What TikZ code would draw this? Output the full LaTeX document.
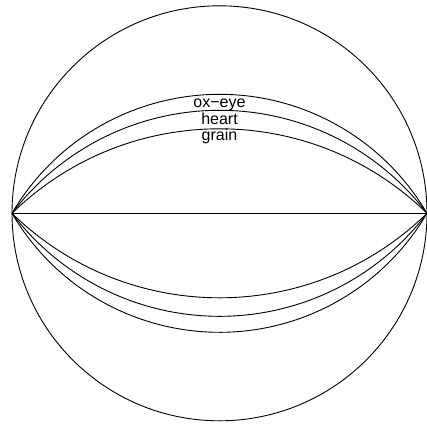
\documentclass[tikz,border=0pt]{standalone}
\usepackage{fontspec}
\setmainfont{Liberation Sans}
\begin{document}
\begin{tikzpicture}[x=1pt,y=1pt,
  thinline/.style={line width=0.9pt},
  lbl/.style={anchor=base,inner sep=0pt,font=\fontsize{16}{18}\selectfont}]
\useasboundingbox (-219.5,-210.7) rectangle (207.5,213.3);
\coordinate (A) at (-207.5,0);
\coordinate (B) at (207.5,0);
\coordinate (O) at (0,0);
\draw[thinline] (O) circle[radius=207.5];
\draw[line width=1.2pt] (A) -- (B);
% upper arcs
\draw[thinline] (A) arc[start angle=134.32, end angle=45.68, radius=297.02];
\draw[thinline] (A) arc[start angle=142.80, end angle=37.20, radius=260.51];
\draw[thinline] (A) arc[start angle=149.66, end angle=30.34, radius=240.41];
% lower arcs
\draw[thinline] (A) arc[start angle=225.68, end angle=314.32, radius=297.02];
\draw[thinline] (A) arc[start angle=217.20, end angle=322.80, radius=260.51];
\draw[thinline] (A) arc[start angle=210.34, end angle=329.66, radius=240.41];
\node[lbl] (oxeye) at (0,106) {ox−eye};
\node[lbl] (heart) at (0,89) {heart};
\node[lbl] (grain) at (0,73.3) {grain};
\end{tikzpicture}
\end{document}
